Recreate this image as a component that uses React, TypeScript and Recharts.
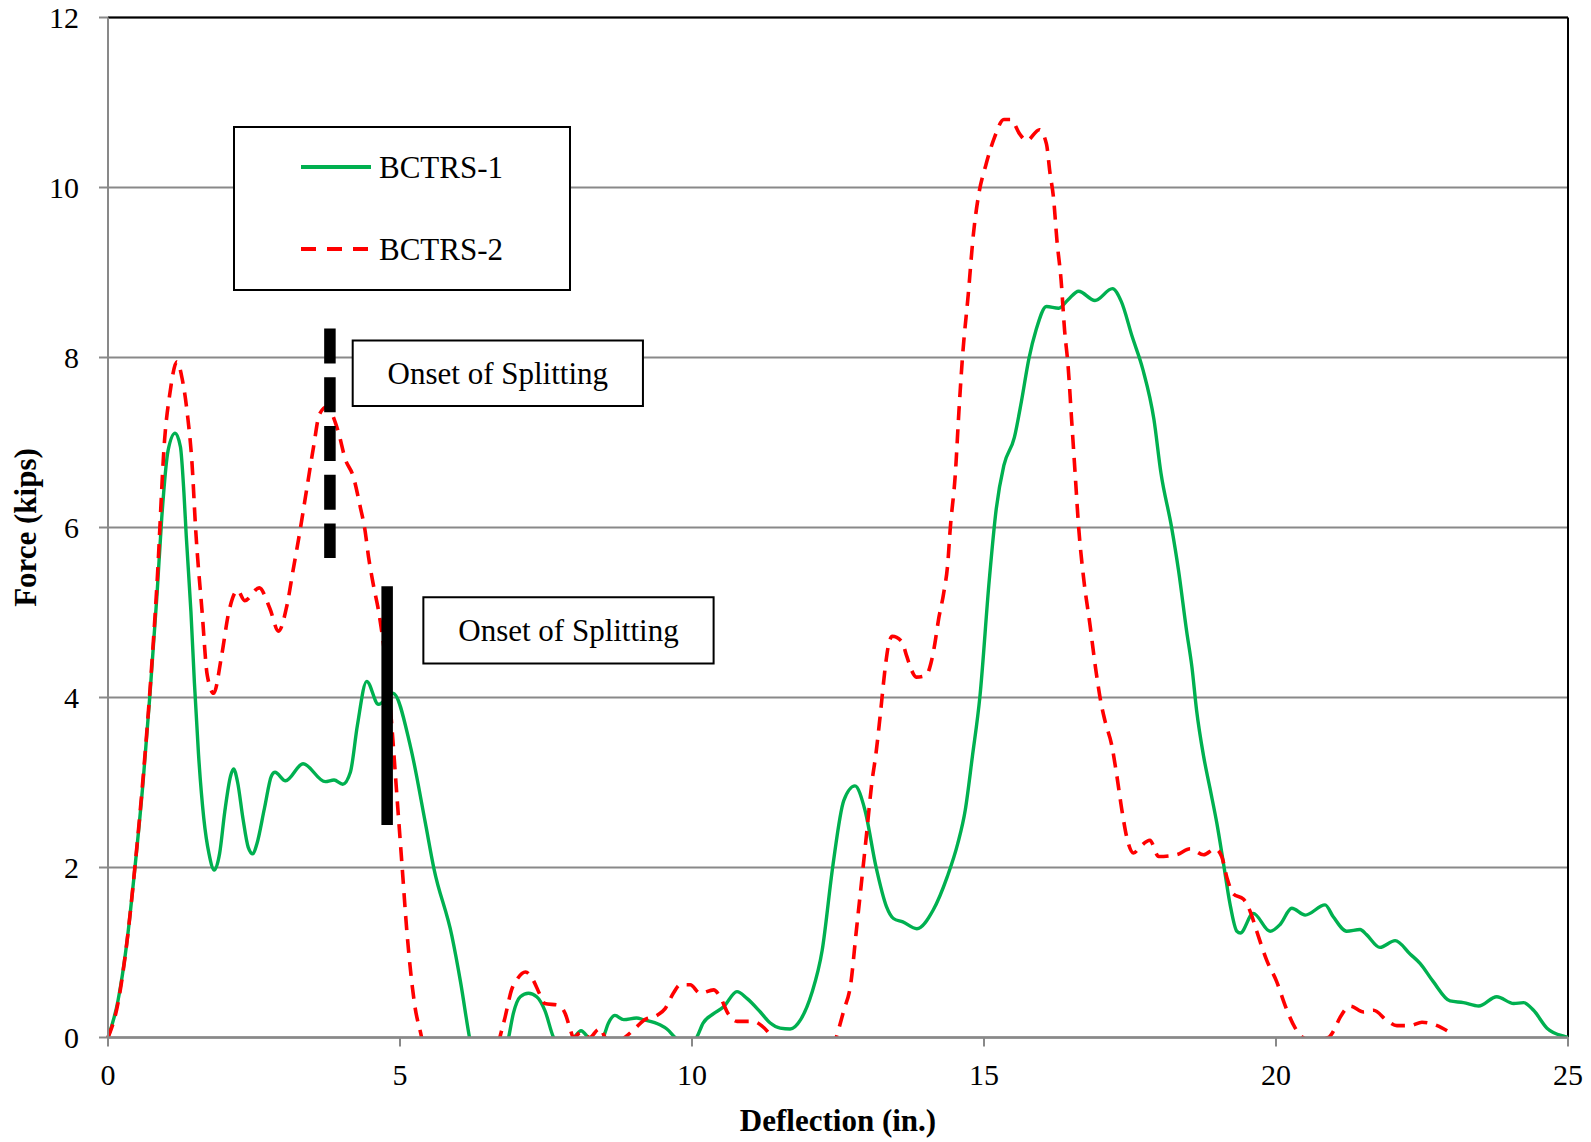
import {
  ComposedChart,
  Line,
  XAxis,
  YAxis,
  CartesianGrid,
  ReferenceLine,
  ReferenceArea,
  Legend,
} from 'recharts';

// deflection (in.) / force (kips)
const bctrs1X = [
  0, 0.17, 0.32, 0.46, 0.6, 0.72, 0.84, 0.92, 1.03, 1.15, 1.24, 1.3, 1.34, 1.42, 1.48, 1.55, 1.64, 1.73,
  1.82, 1.91, 2.0, 2.1, 2.15, 2.22, 2.31, 2.4, 2.48, 2.55, 2.68, 2.8, 2.86, 3.04, 3.34, 3.72, 3.87, 4.02,
  4.15, 4.27, 4.43, 4.63, 4.88, 5.18, 5.43, 5.58, 5.89, 6.04, 6.19, 6.5, 6.86, 6.94, 7.06, 7.2, 7.34, 7.48,
  7.63, 7.8, 7.98, 8.1, 8.22, 8.35, 8.48, 8.57, 8.68, 8.83, 9.05, 9.17, 9.45, 9.57, 9.71, 9.9, 10.08, 10.19,
  10.37, 10.54, 10.77, 10.94, 11.17, 11.34, 11.51, 11.68, 11.86, 12.05, 12.23, 12.41, 12.6, 12.79, 12.96,
  13.15, 13.33, 13.45, 13.61, 13.85, 14.13, 14.37, 14.55, 14.68, 14.8, 14.93, 15.09, 15.21, 15.34, 15.52,
  15.64, 15.77, 15.89, 16.07, 16.28, 16.44, 16.62, 16.9, 17.2, 17.35, 17.54, 17.72, 17.91, 18.03, 18.21,
  18.33, 18.47, 18.56, 18.64, 18.76, 18.87, 18.99, 19.1, 19.21, 19.33, 19.39, 19.61, 19.9, 20.07, 20.27,
  20.5, 20.84, 20.98, 21.21, 21.44, 21.55, 21.78, 22.04, 22.3, 22.47, 22.69, 22.98, 23.21, 23.47, 23.78,
  24.07, 24.24, 24.41, 24.64, 24.95, 25.0,
];
const bctrs1Y = [
  0, 0.43, 1.1, 1.99, 3.0, 4.05, 5.22, 6.11, 6.91, 7.11, 6.95, 6.41, 5.9, 5.01, 4.17, 3.33, 2.58, 2.16,
  1.97, 2.16, 2.66, 3.08, 3.16, 3.0, 2.58, 2.24, 2.16, 2.28, 2.7, 3.08, 3.12, 3.02, 3.22, 3.01, 3.03, 2.98,
  3.12, 3.67, 4.19, 3.92, 4.05, 3.42, 2.54, 1.99, 1.19, 0.64, 0, -0.8, 0, 0.28, 0.48, 0.52, 0.48, 0.32,
  0, -0.12, 0, 0.08, 0, -0.1, 0, 0.17, 0.26, 0.21, 0.23, 0.21, 0.15, 0.1, 0, -0.12, 0, 0.17,
  0.28, 0.36, 0.54, 0.46, 0.3, 0.17, 0.11, 0.1, 0.21, 0.52, 1.03, 2.01, 2.79, 2.96, 2.68,
  2.01, 1.54, 1.4, 1.36, 1.28, 1.5, 1.89, 2.28, 2.68, 3.3, 4.01, 5.38, 6.22, 6.73, 7.06,
  7.48, 7.99, 8.32, 8.6, 8.58, 8.68, 8.78, 8.67, 8.81, 8.66, 8.24, 7.86, 7.27, 6.64, 6.01,
  5.5, 4.78, 4.36, 3.85, 3.31, 2.93, 2.51, 2.05, 1.58, 1.25, 1.23, 1.46, 1.25, 1.33, 1.52,
  1.44, 1.56, 1.42, 1.25, 1.27, 1.21, 1.06, 1.14, 0.98, 0.87, 0.66, 0.43, 0.41, 0.37, 0.48,
  0.4, 0.41, 0.32, 0.11, 0.01, 0,
];

const bctrs2X = [
  0, 0.17, 0.32, 0.46, 0.6, 0.72, 0.84, 0.97, 1.06, 1.18, 1.27, 1.36, 1.44, 1.5, 1.61, 1.7, 1.81, 1.94,
  2.07, 2.22, 2.34, 2.59, 2.77, 2.92, 3.06, 3.17, 3.29, 3.4, 3.52, 3.62, 3.75, 3.89, 3.95, 4.06, 4.2, 4.32,
  4.4, 4.46, 4.54, 4.64, 4.85, 4.94, 5.03, 5.12, 5.25, 5.37, 5.6, 6.1, 6.5, 6.71, 6.8, 6.91, 7.0, 7.15,
  7.26, 7.4, 7.48, 7.71, 7.83, 7.91, 7.97, 8.1, 8.25, 8.38, 8.43, 8.51, 8.7, 8.85, 9.03, 9.17, 9.4, 9.54,
  9.68, 9.8, 9.97, 10.14, 10.37, 10.48, 10.62, 10.77, 11.05, 11.19, 11.37, 11.7, 12.1, 12.47, 12.6, 12.72,
  12.81, 12.9, 12.99, 13.08, 13.15, 13.22, 13.31, 13.36, 13.43, 13.59, 13.68, 13.76, 13.84, 14.01, 14.09,
  14.16, 14.22, 14.31, 14.38, 14.42, 14.51, 14.57, 14.63, 14.73, 14.82, 14.91, 15.03, 15.18, 15.34, 15.46,
  15.61, 15.73, 15.95, 16.07, 16.13, 16.19, 16.25, 16.32, 16.38, 16.44, 16.5, 16.56, 16.62, 16.71, 16.81,
  16.92, 17.0, 17.07, 17.19, 17.27, 17.36, 17.45, 17.56, 17.67, 17.84, 17.99, 18.3, 18.53, 18.76, 18.96,
  19.07, 19.16, 19.27, 19.44, 19.56, 19.67, 19.84, 20.01, 20.16, 20.33, 20.44, 20.65, 20.9, 20.98, 21.1,
  21.27, 21.5, 21.67, 21.9, 22.07, 22.3, 22.5, 22.76, 22.93,
];
const bctrs2Y = [
  0, 0.4, 1.1, 2.0, 3.05, 4.1, 5.35, 7.04, 7.58, 7.95, 7.75, 7.33, 6.74, 5.99, 5.02, 4.26, 4.05, 4.47,
  5.01, 5.26, 5.14, 5.29, 5.05, 4.78, 5.07, 5.5, 5.97, 6.44, 6.95, 7.33, 7.42, 7.24, 7.11, 6.81, 6.6, 6.24,
  5.97, 5.66, 5.34, 4.99, 3.75, 2.91, 2.07, 1.23, 0.39, 0, -0.9, -1.2, -0.7, 0, 0.24, 0.56, 0.68, 0.77,
  0.7, 0.5, 0.4, 0.38, 0.28, 0.11, 0.0, 0.06, 0, 0.09, 0.11, 0, -0.08, 0, 0.11, 0.2, 0.26, 0.34,
  0.52, 0.62, 0.62, 0.52, 0.56, 0.48, 0.28, 0.19, 0.19, 0.14, 0, -0.5, -0.6, 0, 0.32, 0.64,
  1.23, 1.81, 2.4, 3.0, 3.34, 3.77, 4.36, 4.6, 4.72, 4.66, 4.48, 4.32, 4.24, 4.26, 4.4,
  4.64, 4.91, 5.23, 5.58, 5.97, 6.64, 7.36, 7.99, 8.74, 9.46, 9.92, 10.26, 10.59, 10.8, 10.8,
  10.63, 10.55, 10.68, 10.51, 10.17, 9.88, 9.37, 8.91, 8.32, 7.9, 7.27, 6.64, 6.01, 5.38, 4.88,
  4.3, 3.95, 3.73, 3.43, 3.1, 2.68, 2.34, 2.17, 2.24, 2.32, 2.13, 2.15, 2.22, 2.15, 2.22,
  2.13, 1.88, 1.69, 1.63, 1.48, 1.25, 0.91, 0.66, 0.37, 0.11, 0.01, -0.04, 0, 0.07, 0.24,
  0.37, 0.3, 0.32, 0.2, 0.14, 0.14, 0.18, 0.14, 0.08,
];

const xTicks = [0, 5, 10, 15, 20, 25];
const yTicks = [0, 2, 4, 6, 8, 10, 12];

// onset-of-splitting markers: [x, yTop, yBottom]
const splitMark2 = [3.8, 8.34, 5.64];
const splitMark1 = [4.78, 5.31, 2.5];
// note boxes: [x1, x2, y1, y2]
const noteBox2 = [4.19, 9.16, 7.43, 8.2];
const noteBox1 = [5.4, 10.37, 4.4, 5.18];

const FONT = '"Liberation Serif", "Times New Roman", serif';
const GRID = '#898989';

const toRows = (xs: number[], ys: number[]) => xs.map((x, i) => ({ x, y: ys[i] }));
const series1 = toRows(bctrs1X, bctrs1Y);
const series2 = toRows(bctrs2X, bctrs2Y);

const YTitle = ({ viewBox }: any) => {
  const cx = viewBox.x + 17;
  const cy = viewBox.y + viewBox.height / 2;
  return (
    <text
      x={cx}
      y={cy}
      transform={`rotate(-90, ${cx}, ${cy})`}
      textAnchor="middle"
      dominantBaseline="central"
      fontFamily={FONT}
      fontSize={31}
      fontWeight="bold"
      fill="#000"
    >
      Force (kips)
    </text>
  );
};

const XTitle = ({ viewBox }: any) => (
  <text
    x={viewBox.x + viewBox.width / 2}
    y={viewBox.y + 93}
    textAnchor="middle"
    fontFamily={FONT}
    fontSize={31}
    fontWeight="bold"
    fill="#000"
  >
    Deflection (in.)
  </text>
);

const LegendBox = ({ payload }: any) => (
  <div
    style={{
      width: 338,
      height: 165,
      boxSizing: 'border-box',
      border: '2px solid #000',
      background: '#fff',
      position: 'relative',
      fontFamily: FONT,
      fontSize: 31,
      color: '#000',
    }}
  >
    {(payload || []).map((p: any, i: number) => (
      <div
        key={p.value}
        style={{
          position: 'absolute',
          left: 66,
          top: 39 + i * 82 - 20,
          height: 40,
          display: 'flex',
          alignItems: 'center',
          whiteSpace: 'nowrap',
        }}
      >
        <svg width={72} height={8}>
          <line
            x1={0}
            y1={4}
            x2={70}
            y2={4}
            stroke={p.color}
            strokeWidth={3.8}
            strokeDasharray={i === 1 ? '15 11' : undefined}
          />
        </svg>
        <span style={{ marginLeft: 6, lineHeight: '31px' }}>{p.value}</span>
      </div>
    ))}
  </div>
);

export default function App() {
  const tickStyle = { fontSize: 30, fill: '#000', fontFamily: FONT };
  return (
    <div style={{ position: 'absolute', left: 0, top: 0, width: 1591, height: 1142, background: '#fff' }}>
      <ComposedChart width={1591} height={1142} margin={{ top: 17.5, right: 23, bottom: 4.5, left: 8 }}>
        <CartesianGrid vertical={false} stroke={GRID} strokeWidth={2} />
        <XAxis
          dataKey="x"
          type="number"
          domain={[0, 25]}
          ticks={xTicks}
          height={100}
          tick={tickStyle}
          tickSize={9}
          tickMargin={17}
          axisLine={{ stroke: GRID, strokeWidth: 2.5 }}
          tickLine={{ stroke: GRID, strokeWidth: 2 }}
          label={{ content: XTitle }}
        />
        <YAxis
          type="number"
          domain={[0, 12]}
          ticks={yTicks}
          allowDataOverflow
          width={100}
          tick={tickStyle}
          tickSize={9}
          tickMargin={20}
          axisLine={{ stroke: GRID, strokeWidth: 2 }}
          tickLine={{ stroke: GRID, strokeWidth: 2 }}
          label={{ content: YTitle }}
        />
        <ReferenceLine y={12} stroke="#000" strokeWidth={2} />
        <ReferenceLine x={25} stroke="#000" strokeWidth={2} />
        <Legend
          layout="horizontal"
          verticalAlign="middle"
          align="center"
          content={LegendBox}
          wrapperStyle={{ left: 233, top: 126, width: 338, height: 165 }}
        />
        <Line
          data={series1}
          dataKey="y"
          name="BCTRS-1"
          type="monotone"
          stroke="#00b050"
          strokeWidth={3.4}
          dot={false}
          activeDot={false}
          isAnimationActive={false}
        />
        <Line
          data={series2}
          dataKey="y"
          name="BCTRS-2"
          type="monotone"
          stroke="#ff0000"
          strokeWidth={3.6}
          strokeDasharray="14 9"
          dot={false}
          activeDot={false}
          isAnimationActive={false}
        />
        <ReferenceLine
          segment={[
            { x: splitMark2[0], y: splitMark2[1] },
            { x: splitMark2[0], y: splitMark2[2] },
          ]}
          stroke="#000"
          strokeWidth={11.5}
          strokeDasharray="35 13.7"
          zIndex={1000}
        />
        <ReferenceLine
          segment={[
            { x: splitMark1[0], y: splitMark1[1] },
            { x: splitMark1[0], y: splitMark1[2] },
          ]}
          stroke="#000"
          strokeWidth={11.5}
          zIndex={1000}
        />
        <ReferenceArea
          x1={noteBox2[0]}
          x2={noteBox2[1]}
          y1={noteBox2[2]}
          y2={noteBox2[3]}
          fill="#fff"
          fillOpacity={1}
          stroke="#000"
          strokeWidth={2}
          zIndex={1000}
          label={{ value: 'Onset of Splitting', position: 'center', fill: '#000', fontSize: 31, fontFamily: FONT }}
        />
        <ReferenceArea
          x1={noteBox1[0]}
          x2={noteBox1[1]}
          y1={noteBox1[2]}
          y2={noteBox1[3]}
          fill="#fff"
          fillOpacity={1}
          stroke="#000"
          strokeWidth={2}
          zIndex={1000}
          label={{ value: 'Onset of Splitting', position: 'center', fill: '#000', fontSize: 31, fontFamily: FONT }}
        />
      </ComposedChart>
    </div>
  );
}
